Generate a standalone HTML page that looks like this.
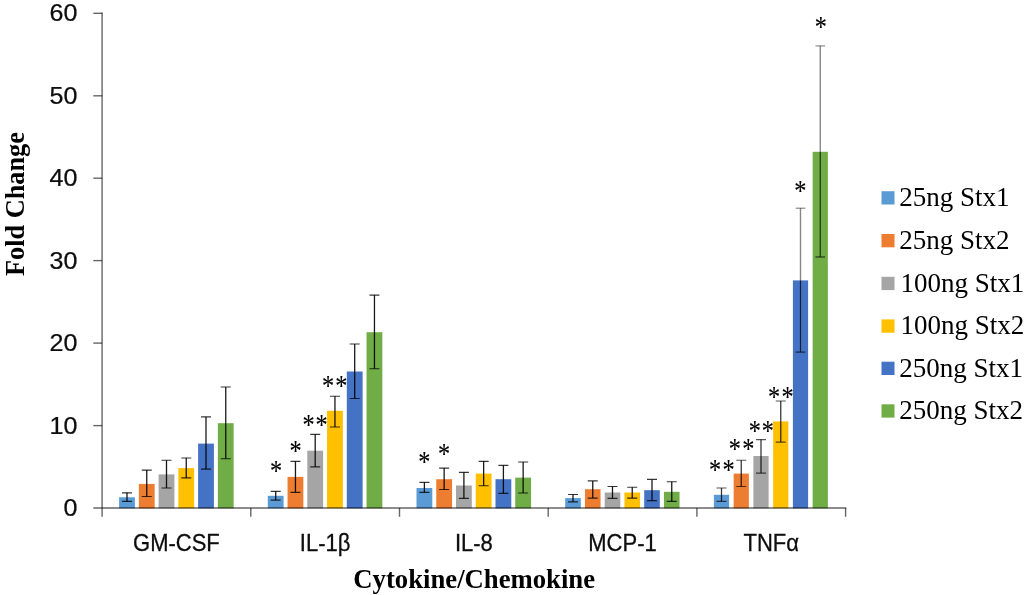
<!DOCTYPE html>
<html lang="en"><head><meta charset="utf-8"><title>Cytokine/Chemokine Fold Change</title>
<style>
html,body{margin:0;padding:0;background:#fff;}
body{width:1024px;height:595px;overflow:hidden;}
svg{display:block;}
.sans{font-family:"Liberation Sans","DejaVu Sans",sans-serif;fill:#0d0d0d;}
.serif{font-family:"Liberation Serif","DejaVu Serif",serif;fill:#000;}
.b{font-weight:bold;}
</style></head><body>
<svg width="1024" height="595" viewBox="0 0 1024 595">
<rect width="1024" height="595" fill="#fff"/>

<g class="sans" font-size="24" text-anchor="end" stroke="#0d0d0d" stroke-width="0.25">
<text transform="translate(77.5 516.1) scale(1.045 0.97)">0</text>
<text transform="translate(77.5 433.7) scale(1.045 0.97)">10</text>
<text transform="translate(77.5 351.2) scale(1.045 0.97)">20</text>
<text transform="translate(77.5 268.8) scale(1.045 0.97)">30</text>
<text transform="translate(77.5 186.3) scale(1.045 0.97)">40</text>
<text transform="translate(77.5 103.8) scale(1.045 0.97)">50</text>
<text transform="translate(77.5 21.4) scale(1.045 0.97)">60</text>
</g>
<rect x="119.10" y="497.3" width="15.8" height="11.0" fill="#5B9BD5"/>
<rect x="138.85" y="483.9" width="15.8" height="24.4" fill="#ED7D31"/>
<rect x="158.60" y="474.4" width="15.8" height="33.9" fill="#A5A5A5"/>
<rect x="178.35" y="468.1" width="15.8" height="40.2" fill="#FFC000"/>
<rect x="198.10" y="443.6" width="15.8" height="64.7" fill="#4472C4"/>
<rect x="217.85" y="423.2" width="15.8" height="85.1" fill="#70AD47"/>
<rect x="267.80" y="495.8" width="15.8" height="12.5" fill="#5B9BD5"/>
<rect x="287.55" y="476.9" width="15.8" height="31.4" fill="#ED7D31"/>
<rect x="307.30" y="450.7" width="15.8" height="57.6" fill="#A5A5A5"/>
<rect x="327.05" y="410.8" width="15.8" height="97.5" fill="#FFC000"/>
<rect x="346.80" y="371.5" width="15.8" height="136.8" fill="#4472C4"/>
<rect x="366.55" y="332.2" width="15.8" height="176.1" fill="#70AD47"/>
<rect x="416.50" y="488.0" width="15.8" height="20.3" fill="#5B9BD5"/>
<rect x="436.25" y="479.2" width="15.8" height="29.1" fill="#ED7D31"/>
<rect x="456.00" y="485.5" width="15.8" height="22.8" fill="#A5A5A5"/>
<rect x="475.75" y="473.6" width="15.8" height="34.7" fill="#FFC000"/>
<rect x="495.50" y="479.2" width="15.8" height="29.1" fill="#4472C4"/>
<rect x="515.25" y="477.6" width="15.8" height="30.7" fill="#70AD47"/>
<rect x="565.20" y="498.1" width="15.6" height="10.2" fill="#5B9BD5"/>
<rect x="584.95" y="489.2" width="15.6" height="19.1" fill="#ED7D31"/>
<rect x="604.70" y="492.5" width="15.6" height="15.8" fill="#A5A5A5"/>
<rect x="624.45" y="492.5" width="15.6" height="15.8" fill="#FFC000"/>
<rect x="644.20" y="490.2" width="15.6" height="18.1" fill="#4472C4"/>
<rect x="663.95" y="491.8" width="15.6" height="16.5" fill="#70AD47"/>
<rect x="713.90" y="494.8" width="15.2" height="13.5" fill="#5B9BD5"/>
<rect x="733.65" y="473.6" width="15.2" height="34.7" fill="#ED7D31"/>
<rect x="753.40" y="456.0" width="15.2" height="52.3" fill="#A5A5A5"/>
<rect x="773.15" y="421.4" width="15.2" height="86.9" fill="#FFC000"/>
<rect x="792.90" y="280.4" width="15.2" height="227.9" fill="#4472C4"/>
<rect x="812.65" y="151.8" width="15.2" height="356.5" fill="#70AD47"/>
<g stroke="#000" fill="none">
<path d="M127.00 492.8V501.3" stroke-width="1.3" stroke-opacity="0.9"/>
<path d="M122.00 492.8h10M122.00 501.3h10" stroke-width="1.15" stroke-opacity="0.78"/>
<path d="M146.75 470.1V496.5" stroke-width="1.3" stroke-opacity="0.9"/>
<path d="M141.75 470.1h10M141.75 496.5h10" stroke-width="1.15" stroke-opacity="0.78"/>
<path d="M166.50 460.2V488.0" stroke-width="1.3" stroke-opacity="0.9"/>
<path d="M161.50 460.2h10M161.50 488.0h10" stroke-width="1.15" stroke-opacity="0.78"/>
<path d="M186.25 458.0V477.9" stroke-width="1.3" stroke-opacity="0.9"/>
<path d="M181.25 458.0h10M181.25 477.9h10" stroke-width="1.15" stroke-opacity="0.78"/>
<path d="M206.00 416.9V469.1" stroke-width="1.3" stroke-opacity="0.9"/>
<path d="M201.00 416.9h10M201.00 469.1h10" stroke-width="1.15" stroke-opacity="0.78"/>
<path d="M225.75 387.0V458.7" stroke-width="1.3" stroke-opacity="0.9"/>
<path d="M220.75 387.0h10M220.75 458.7h10" stroke-width="1.15" stroke-opacity="0.78"/>
<path d="M275.70 491.3V500.1" stroke-width="1.3" stroke-opacity="0.9"/>
<path d="M270.70 491.3h10M270.70 500.1h10" stroke-width="1.15" stroke-opacity="0.78"/>
<path d="M295.45 461.3V492.3" stroke-width="1.3" stroke-opacity="0.9"/>
<path d="M290.45 461.3h10M290.45 492.3h10" stroke-width="1.15" stroke-opacity="0.78"/>
<path d="M315.20 434.3V466.8" stroke-width="1.3" stroke-opacity="0.9"/>
<path d="M310.20 434.3h10M310.20 466.8h10" stroke-width="1.15" stroke-opacity="0.78"/>
<path d="M334.95 396.2V427.0" stroke-width="1.3" stroke-opacity="0.9"/>
<path d="M329.95 396.2h10M329.95 427.0h10" stroke-width="1.15" stroke-opacity="0.78"/>
<path d="M354.70 344.0V398.5" stroke-width="1.3" stroke-opacity="0.9"/>
<path d="M349.70 344.0h10M349.70 398.5h10" stroke-width="1.15" stroke-opacity="0.78"/>
<path d="M374.45 295.1V368.7" stroke-width="1.3" stroke-opacity="0.9"/>
<path d="M369.45 295.1h10M369.45 368.7h10" stroke-width="1.15" stroke-opacity="0.78"/>
<path d="M424.40 482.4V492.3" stroke-width="1.3" stroke-opacity="0.9"/>
<path d="M419.40 482.4h10M419.40 492.3h10" stroke-width="1.15" stroke-opacity="0.78"/>
<path d="M444.15 468.1V489.5" stroke-width="1.3" stroke-opacity="0.9"/>
<path d="M439.15 468.1h10M439.15 489.5h10" stroke-width="1.15" stroke-opacity="0.78"/>
<path d="M463.90 472.3V498.3" stroke-width="1.3" stroke-opacity="0.9"/>
<path d="M458.90 472.3h10M458.90 498.3h10" stroke-width="1.15" stroke-opacity="0.78"/>
<path d="M483.65 461.3V485.7" stroke-width="1.3" stroke-opacity="0.9"/>
<path d="M478.65 461.3h10M478.65 485.7h10" stroke-width="1.15" stroke-opacity="0.78"/>
<path d="M503.40 465.3V493.3" stroke-width="1.3" stroke-opacity="0.9"/>
<path d="M498.40 465.3h10M498.40 493.3h10" stroke-width="1.15" stroke-opacity="0.78"/>
<path d="M523.15 462.0V493.0" stroke-width="1.3" stroke-opacity="0.9"/>
<path d="M518.15 462.0h10M518.15 493.0h10" stroke-width="1.15" stroke-opacity="0.78"/>
<path d="M573.00 494.5V501.8" stroke-width="1.3" stroke-opacity="0.9"/>
<path d="M568.00 494.5h10M568.00 501.8h10" stroke-width="1.15" stroke-opacity="0.78"/>
<path d="M592.75 480.9V498.1" stroke-width="1.3" stroke-opacity="0.9"/>
<path d="M587.75 480.9h10M587.75 498.1h10" stroke-width="1.15" stroke-opacity="0.78"/>
<path d="M612.50 486.5V498.3" stroke-width="1.3" stroke-opacity="0.9"/>
<path d="M607.50 486.5h10M607.50 498.3h10" stroke-width="1.15" stroke-opacity="0.78"/>
<path d="M632.25 487.2V498.1" stroke-width="1.3" stroke-opacity="0.9"/>
<path d="M627.25 487.2h10M627.25 498.1h10" stroke-width="1.15" stroke-opacity="0.78"/>
<path d="M652.00 479.4V500.6" stroke-width="1.3" stroke-opacity="0.9"/>
<path d="M647.00 479.4h10M647.00 500.6h10" stroke-width="1.15" stroke-opacity="0.78"/>
<path d="M671.75 481.7V501.3" stroke-width="1.3" stroke-opacity="0.9"/>
<path d="M666.75 481.7h10M666.75 501.3h10" stroke-width="1.15" stroke-opacity="0.78"/>
<path d="M721.50 488.0V501.3" stroke-width="1.3" stroke-opacity="0.78"/>
<path d="M716.50 488.0h10M716.50 501.3h10" stroke-width="1.15" stroke-opacity="0.66"/>
<path d="M741.25 460.2V486.5" stroke-width="1.3" stroke-opacity="0.78"/>
<path d="M736.25 460.2h10M736.25 486.5h10" stroke-width="1.15" stroke-opacity="0.66"/>
<path d="M761.00 439.6V473.1" stroke-width="1.3" stroke-opacity="0.78"/>
<path d="M756.00 439.6h10M756.00 473.1h10" stroke-width="1.15" stroke-opacity="0.66"/>
<path d="M780.75 401.0V442.1" stroke-width="1.3" stroke-opacity="0.78"/>
<path d="M775.75 401.0h10M775.75 442.1h10" stroke-width="1.15" stroke-opacity="0.66"/>
<path d="M800.50 208.2V280.4" stroke-width="1.4" stroke-opacity="0.47"/>
<path d="M800.50 280.4V352.1" stroke-width="1.2" stroke-opacity="0.72"/>
<path d="M795.70 208.2h9.6" stroke-width="1.1" stroke-opacity="0.5"/>
<path d="M795.70 352.1h9.6" stroke-width="1.1" stroke-opacity="0.75"/>
<path d="M820.25 45.9V151.8" stroke-width="1.4" stroke-opacity="0.47"/>
<path d="M820.25 151.8V257.0" stroke-width="1.2" stroke-opacity="0.72"/>
<path d="M815.45 45.9h9.6" stroke-width="1.1" stroke-opacity="0.5"/>
<path d="M815.45 257.0h9.6" stroke-width="1.1" stroke-opacity="0.75"/>
</g>
<g stroke="#000" stroke-opacity="0.6" stroke-width="1.4" fill="none">
<line x1="102.1" y1="12.6" x2="102.1" y2="516.8"/>
<line x1="93.3" y1="508.0" x2="846.3" y2="508.0"/>
<line x1="93.3" y1="425.6" x2="102.1" y2="425.6"/>
<line x1="93.3" y1="343.1" x2="102.1" y2="343.1"/>
<line x1="93.3" y1="260.6" x2="102.1" y2="260.6"/>
<line x1="93.3" y1="178.2" x2="102.1" y2="178.2"/>
<line x1="93.3" y1="95.8" x2="102.1" y2="95.8"/>
<line x1="93.3" y1="13.3" x2="102.1" y2="13.3"/>
<line x1="250.8" y1="508.0" x2="250.8" y2="516.8"/>
<line x1="399.5" y1="508.0" x2="399.5" y2="516.8"/>
<line x1="548.2" y1="508.0" x2="548.2" y2="516.8"/>
<line x1="696.9" y1="508.0" x2="696.9" y2="516.8"/>
<line x1="845.6" y1="508.0" x2="845.6" y2="516.8"/>
</g>
<g class="serif" font-size="27" text-anchor="middle" stroke="#000" stroke-width="0.12">
<text transform="translate(276 480.2) scale(0.9 1.07)">*</text>
<text transform="translate(295.6 460.3) scale(0.9 1.07)">*</text>
<text transform="translate(308.5 434.3) scale(0.9 1.07)">*</text>
<text transform="translate(321.6 434.3) scale(0.9 1.07)">*</text>
<text transform="translate(328.1 395.2) scale(0.9 1.07)">*</text>
<text transform="translate(341.3 395.2) scale(0.9 1.07)">*</text>
<text transform="translate(424.2 471.1) scale(0.9 1.07)">*</text>
<text transform="translate(444.1 462.5) scale(0.9 1.07)">*</text>
<text transform="translate(715.1 478.9) scale(0.9 1.07)">*</text>
<text transform="translate(728.5 478.9) scale(0.9 1.07)">*</text>
<text transform="translate(734.8 458.0) scale(0.9 1.07)">*</text>
<text transform="translate(748.2 458.0) scale(0.9 1.07)">*</text>
<text transform="translate(754.7 440.3) scale(0.9 1.07)">*</text>
<text transform="translate(767.8 440.3) scale(0.9 1.07)">*</text>
<text transform="translate(774.1 405.5) scale(0.9 1.07)">*</text>
<text transform="translate(787.5 405.5) scale(0.9 1.07)">*</text>
<text transform="translate(800.4 199.6) scale(0.9 1.07)">*</text>
<text transform="translate(820.7 35.9) scale(0.9 1.07)">*</text>
</g>
<g class="sans" font-size="24" text-anchor="middle" stroke="#0d0d0d" stroke-width="0.3">
<text transform="translate(176.4 550.6) scale(0.917 1)">GM-CSF</text>
<text transform="translate(325.1 550.6) scale(0.917 1)">IL-1β</text>
<text transform="translate(473.9 550.6) scale(0.917 1)">IL-8</text>
<text transform="translate(622.5 550.6) scale(0.917 1)">MCP-1</text>
<text transform="translate(771.2 550.6) scale(0.917 1)">TNFα</text>
</g>
<text class="serif b" font-size="26.7" text-anchor="middle" x="474.2" y="588.3">Cytokine/Chemokine</text>
<text class="serif b" font-size="26.3" text-anchor="middle" transform="translate(23.6 204.1) rotate(-90)">Fold Change</text>
<rect x="881.5" y="191.2" width="13" height="13.3" fill="#5B9BD5"/>
<text class="serif" font-size="27" x="899.3" y="206.2">25ng Stx1</text>
<rect x="881.5" y="234.0" width="13" height="13.3" fill="#ED7D31"/>
<text class="serif" font-size="27" x="899.3" y="249.0">25ng Stx2</text>
<rect x="881.5" y="276.8" width="13" height="13.3" fill="#A5A5A5"/>
<text class="serif" font-size="27" x="900.5" y="291.8">100ng Stx1</text>
<rect x="881.5" y="319.4" width="13" height="13.3" fill="#FFC000"/>
<text class="serif" font-size="27" x="900.5" y="334.4">100ng Stx2</text>
<rect x="881.5" y="361.7" width="13" height="13.3" fill="#4472C4"/>
<text class="serif" font-size="27" x="899.3" y="376.7">250ng Stx1</text>
<rect x="881.5" y="404.3" width="13" height="13.3" fill="#70AD47"/>
<text class="serif" font-size="27" x="899.3" y="419.3">250ng Stx2</text>
</svg>
</body></html>
